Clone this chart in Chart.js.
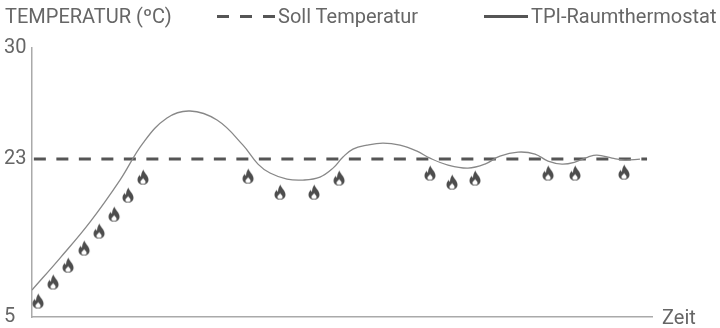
<!DOCTYPE html>
<html>
<head>
<meta charset="utf-8">
<script src="https://cdn.jsdelivr.net/npm/chart.js@4"></script>
<style>
    html, body { margin: 0; padding: 0; background: #fff; }
    #wrap { position: relative; width: 720px; height: 328px; overflow: hidden; font-family: Roboto, sans-serif; color: #666; }
    #wrap canvas { position: absolute; left: 0; top: 0; }
    .lbl { position: absolute; font-size: 20px; line-height: 24px; white-space: nowrap; }
    .swatch { position: absolute; height: 3px; }
</style>
</head>
<body>
<div id="wrap">
    <canvas id="chart" width="720" height="328"></canvas>
    <span class="lbl" style="left:5px;top:4px">TEMPERATUR (ºC)</span>
    <div class="swatch" style="left:217px;top:15px;width:58px;background:repeating-linear-gradient(90deg,#555 0 12px,transparent 12px 23px)"></div>
    <span class="lbl" style="left:278px;top:4px">Soll Temperatur</span>
    <div class="swatch" style="left:484px;top:15px;width:44px;background:#555"></div>
    <span class="lbl" style="left:531px;top:4px">TPI-Raumthermostat</span>
    <span class="lbl" style="left:662px;top:305px">Zeit</span>
</div>
<script>
// values, x is time in % of the axis length
const yTicks = [5, 23, 30];
const sollTime = [0.3, 99.2];
const sollTemp = [23, 23];
const tpiTime = [0, 4.52, 9.35, 14.19, 17.9, 21.77, 25.48, 29.84, 34.03, 36.45, 38.39, 41.13, 43.71, 46.45, 48.55, 50.16, 51.77, 54.03, 56.61, 59.35, 62.1, 64.19, 67.1, 70.32, 73.06, 75.48, 78.39, 81.13, 83.23, 85.48, 87.58, 89.68, 91.13, 93.55, 95.65, 98.06];
const tpiTemp = [8.08, 11.72, 15.82, 20.61, 24.01, 25.59, 26.03, 25.46, 23.88, 22.43, 21.41, 20.72, 20.61, 20.95, 21.97, 23.13, 23.63, 23.88, 24.01, 23.88, 23.5, 23.06, 22.32, 21.97, 22.43, 23.19, 23.44, 23.32, 22.77, 22.43, 22.66, 23.13, 23.25, 23.06, 22.89, 23];
const flameTime = [0.97, 3.39, 5.81, 8.39, 10.81, 13.23, 15.48, 17.9, 34.84, 40, 45.48, 49.52, 64.19, 67.74, 71.45, 83.23, 87.58, 95.48];
const flameTemp = [6.82, 8.99, 10.92, 12.86, 14.8, 16.73, 18.9, 20.95, 21.06, 19.24, 19.24, 20.84, 21.41, 20.38, 20.84, 21.41, 21.41, 21.52];

const pairs = (xs, ys) => xs.map((x, i) => ({ x: x, y: ys[i] }));

// the y axis of the original is not to scale: 5-23 and 23-30 have different steps
class BrokenTempScale extends Chart.LinearScale {
    getPixelForValue(v) {
        const knee = 0.587;
        const d = v <= 23 ? (v - 5) / 18 * knee : knee + (v - 23) / 7 * (1 - knee);
        return this.getPixelForDecimal(d);
    }
}
BrokenTempScale.id = 'brokenTemp';
BrokenTempScale.defaults = Chart.LinearScale.defaults;
Chart.register(BrokenTempScale);

function makeFlame() {
    const c = document.createElement('canvas');
    c.width = 14; c.height = 17;
    const g = c.getContext('2d');
    g.fillStyle = '#4d4d4d';
    g.fill(new Path2D('M7.5 1 C8 4 12.5 7 12.5 11 C12.5 14.2 10 16 7 16 C4 16 1.5 14.2 1.5 11 C1.5 8.8 2.8 7.3 3.8 6.2 C4 7.2 4.4 7.9 5 8.2 C5 5.5 6 3 7.5 1 Z'));
    g.fillStyle = '#fff';
    g.fill(new Path2D('M7.2 9.5 C7.6 10.8 9.6 11.8 9.6 13.2 C9.6 14.6 8.4 15.2 7 15.2 C5.6 15.2 4.4 14.6 4.4 13.2 C4.4 11.8 6.4 11 7.2 9.5 Z'));
    return c;
}

new Chart(document.getElementById('chart'), {
    type: 'line',
    data: {
        datasets: [
            {
                data: pairs(tpiTime, tpiTemp),
                borderColor: '#888',
                borderWidth: 1.3,
                tension: 0.4,
                pointRadius: 0
            },
            {
                data: pairs(sollTime, sollTemp),
                borderColor: '#555',
                borderWidth: 3,
                borderDash: [12, 10.5],
                pointRadius: 0
            },
            {
                data: pairs(flameTime, flameTemp),
                showLine: false,
                pointStyle: makeFlame(),
                pointRadius: 7
            }
        ]
    },
    options: {
        responsive: false,
        animation: false,
        events: [],
        layout: { padding: { top: 48, right: 68, bottom: 11, left: 4 } },
        plugins: { legend: { display: false }, tooltip: { enabled: false } },
        scales: {
            x: {
                type: 'linear', min: 0, max: 100,
                afterFit: s => { s.height = 0; },
                grid: { display: false },
                border: { color: '#aaa', width: 1.5 },
                ticks: { display: false }
            },
            y: {
                type: 'brokenTemp', min: 5, max: 30,
                // keep the plot box fixed, whatever the size of the tick labels
                afterFit: s => { s.width = 28; s.paddingTop = 0; s.paddingBottom = 0; },
                afterBuildTicks: s => { s.ticks = yTicks.map(v => ({ value: v })); },
                grid: { display: false },
                border: { color: '#aaa', width: 1.5 },
                ticks: {
                    color: '#666', padding: 6,
                    font: { family: 'Roboto', size: 20 },
                    crossAlign: 'far'
                }
            }
        }
    }
});
</script>
</body>
</html>
